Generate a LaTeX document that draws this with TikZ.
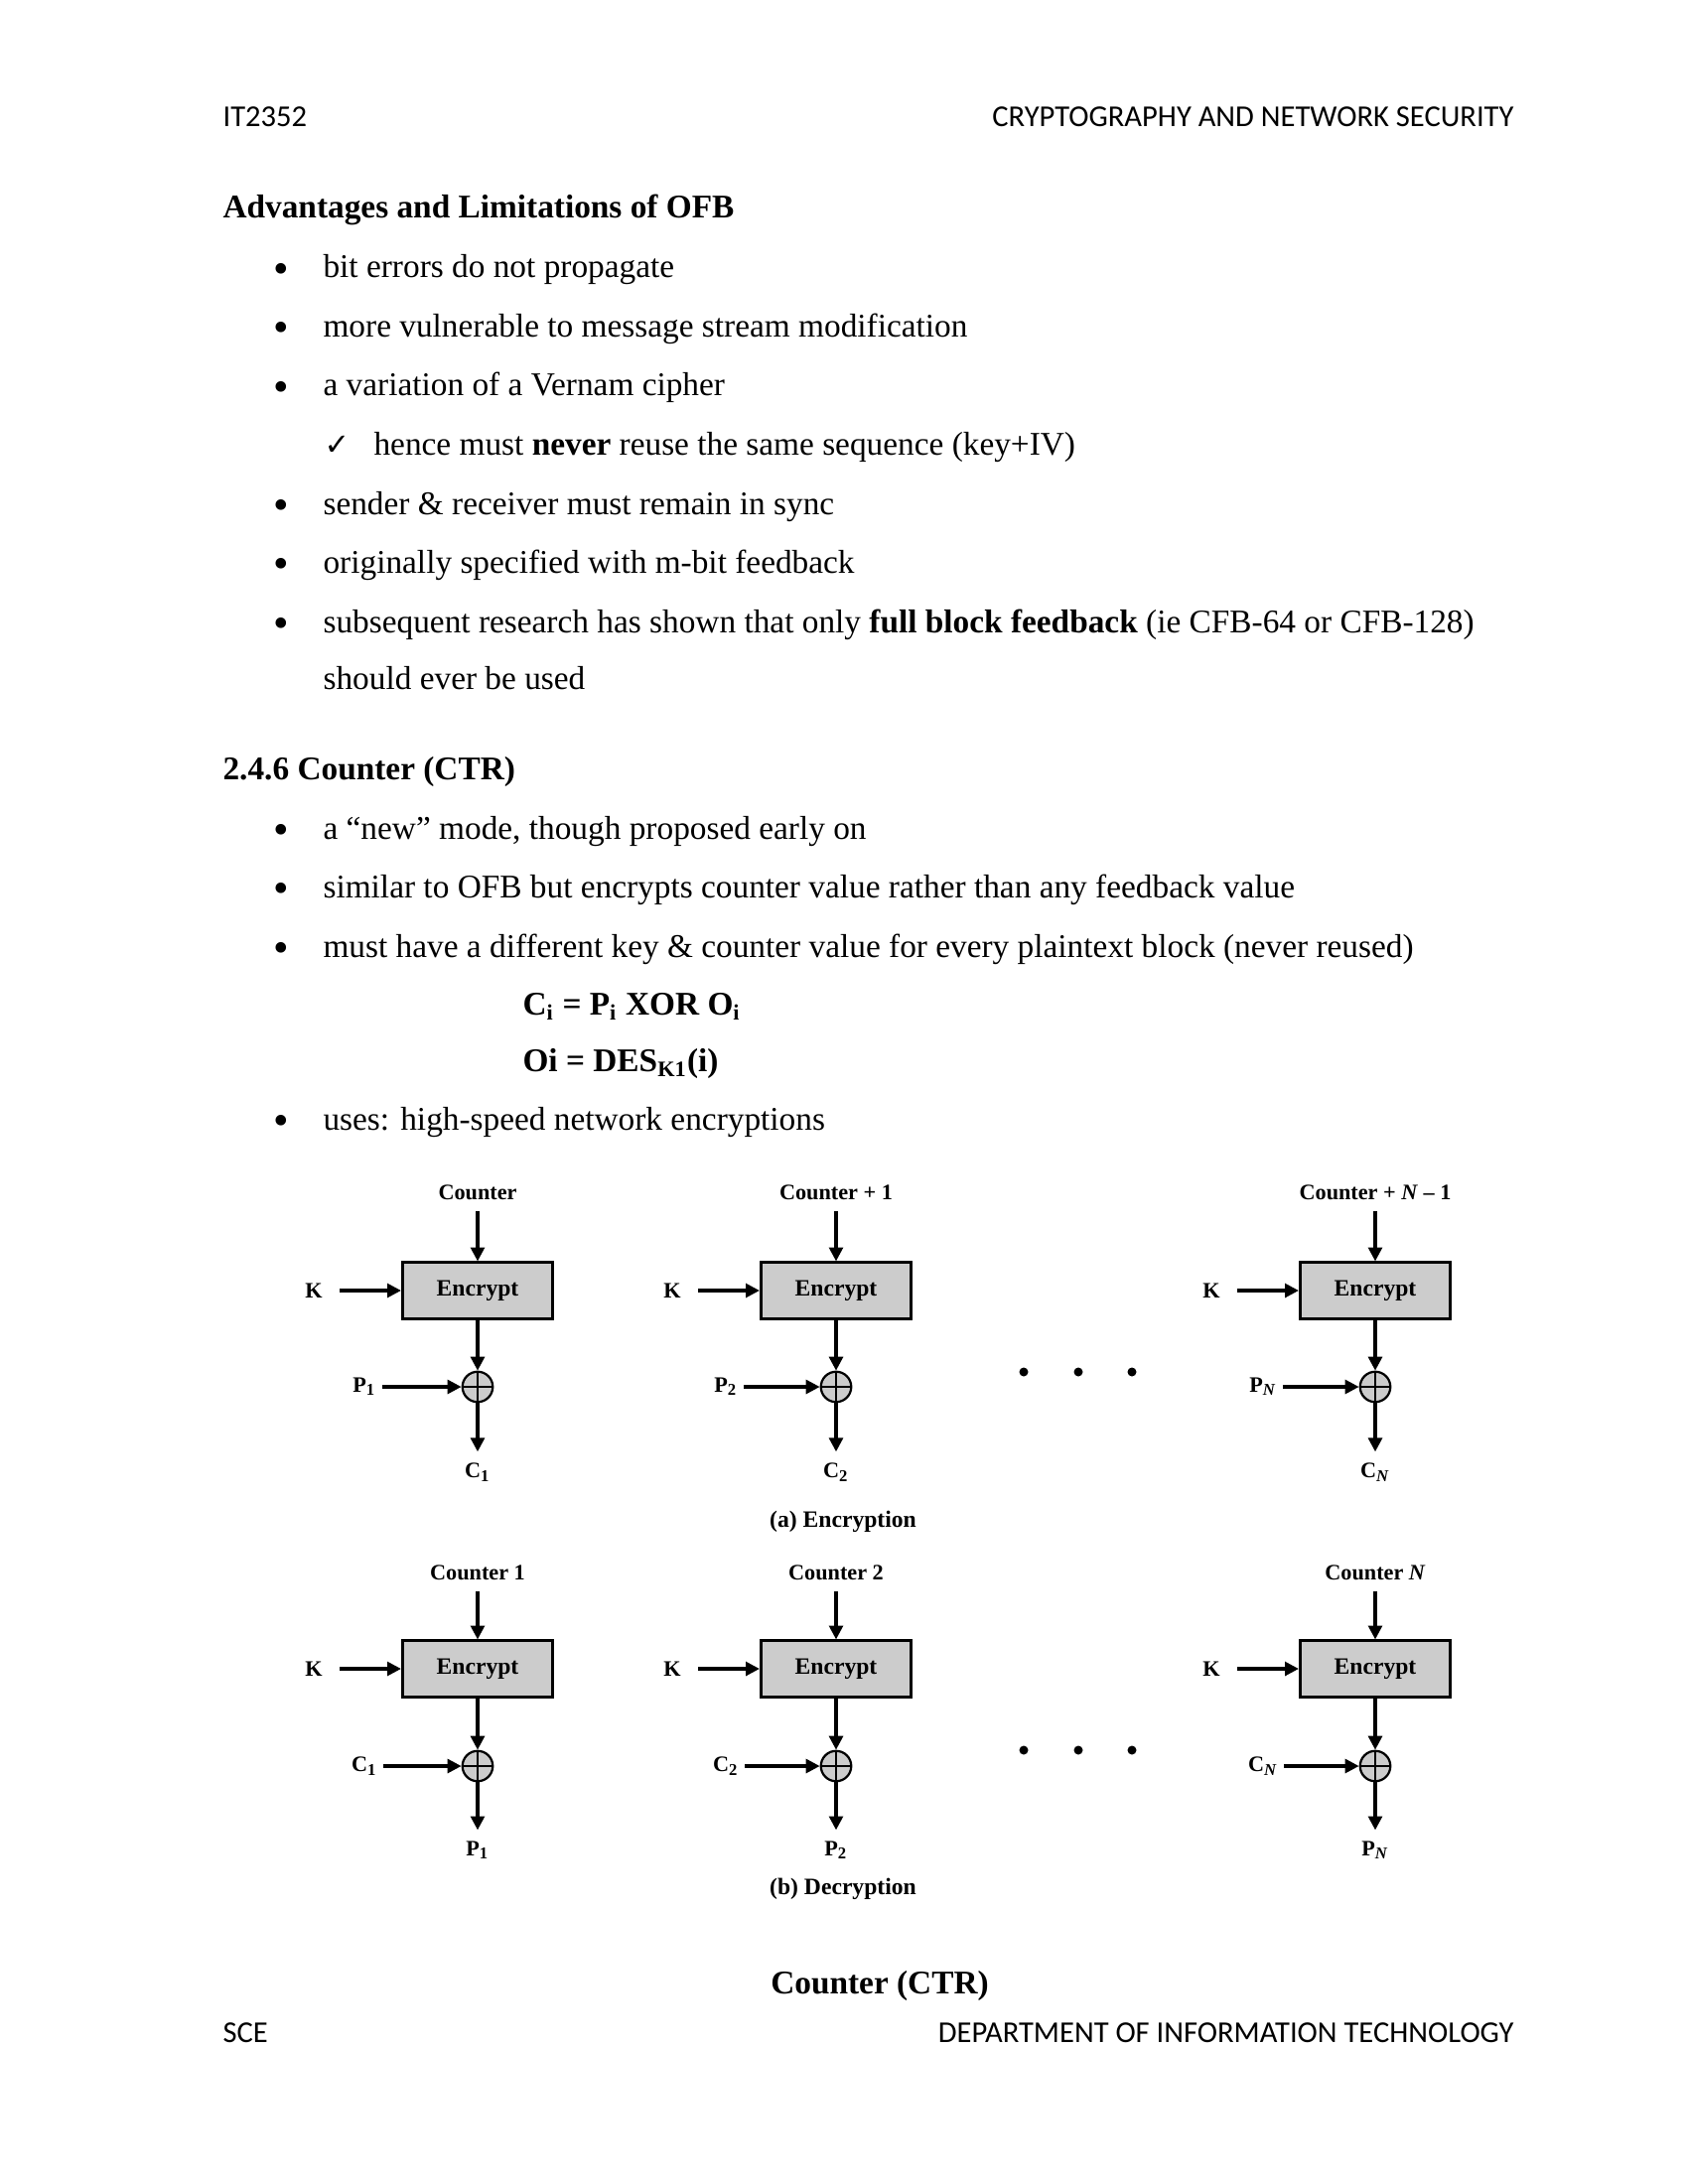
\documentclass[tikz,border=0pt]{standalone}
\usepackage{fontspec}
\setmainfont{Liberation Serif}
\newfontfamily\hdrfont{Carlito}
\newfontfamily\symfont{DejaVu Sans}
\usetikzlibrary{arrows.meta}
\definecolor{boxgray}{RGB}{204,204,204}
\newcommand{\blt}{\raisebox{-2pt}{\fontsize{16}{14}\selectfont •}}

\begin{document}
\begin{tikzpicture}[x=0.36pt,y=0.36pt,yscale=-1,xscale=1,
	txt/.style={anchor=base west,inner sep=0pt,font=\fontsize{12}{14}\selectfont},
	hdr/.style={inner sep=0pt,font=\hdrfont\fontsize{11}{13}\selectfont},
	lbl/.style={inner sep=1pt,font=\bfseries\fontsize{8}{9}\selectfont},
	encbox/.style={draw,line width=1.1pt,fill=boxgray,minimum width=54.4pt,minimum height=20.2pt,inner sep=0pt,font=\bfseries\fontsize{8.5}{10}\selectfont},
	xorop/.style={circle,draw,line width=0.8pt,fill=boxgray,minimum size=11pt,inner sep=0pt,
		path picture={\draw[line width=0.6pt] (path picture bounding box.north) -- (path picture bounding box.south) (path picture bounding box.west) -- (path picture bounding box.east);}},
	arr/.style={line width=1.1pt,-{Triangle[length=5pt,width=5pt]}}]
	\useasboundingbox (0,0) rectangle (1700,2200);
	
	% Header and footer
	\node[hdr,anchor=base west] (hleft) at (224,128) {IT2352};
	\node[hdr,anchor=base east] (hright) at (1525,128) {CRYPTOGRAPHY AND NETWORK SECURITY};
	\node[hdr,anchor=base west] (fleft) at (224,2057) {SCE};
	\node[hdr,anchor=base east] (fright) at (1525,2057) {DEPARTMENT OF INFORMATION TECHNOLOGY};
	
	% Text Node
	\node[txt] (ofbhead) at (224,220) {\bfseries Advantages and Limitations of OFB};
	\node[txt] (b1) at (275,280) {\blt};
	\node[txt] (t1) at (325,280) {bit errors do not propagate};
	\node[txt] (b2) at (275,339) {\blt};
	\node[txt] (t2) at (325,339) {more vulnerable to message stream modification};
	\node[txt] (b3) at (275,399) {\blt};
	\node[txt] (t3) at (325,399) {a variation of a Vernam cipher};
	\node[txt] (tick) at (326,458) {\symfont\bfseries\fontsize{11}{13}\selectfont ✓};
	\node[txt] (t4) at (376,458) {hence must \textbf{never} reuse the same sequence (key+IV)};
	\node[txt] (b5) at (275,518) {\blt};
	\node[txt] (t5) at (325,518) {sender \& receiver must remain in sync};
	\node[txt] (b6) at (275,577) {\blt};
	\node[txt] (t6) at (325,577) {originally specified with m-bit feedback};
	\node[txt] (b7) at (275,637) {\blt};
	\node[txt] (t7) at (325,637) {subsequent research has shown that only \textbf{full block feedback} (ie CFB-64 or CFB-128)};
	\node[txt] (t7b) at (325,694) {should ever be used};
	
	% Text Node
	\node[txt] (ctrhead) at (224,785) {\bfseries 2.4.6 Counter (CTR)};
	\node[txt] (b8) at (275,845) {\blt};
	\node[txt] (t8) at (325,845) {a “new” mode, though proposed early on};
	\node[txt] (b9) at (275,904) {\blt};
	\node[txt] (t9) at (325,904) {similar to OFB but encrypts counter value rather than any feedback value};
	\node[txt] (b10) at (275,964) {\blt};
	\node[txt] (t10) at (325,964) {must have a different key \& counter value for every plaintext block (never reused)};
	\node[txt] (f1) at (526,1022) {\bfseries C\textsubscript{i} = P\textsubscript{i} XOR O\textsubscript{i}};
	\node[txt] (f2) at (526,1079) {\bfseries Oi = DES\textsubscript{K1}(i)};
	\node[txt] (b11) at (275,1138) {\blt};
	\node[txt] (t11) at (325,1138) {uses: high-speed network encryptions};
	
	% Encryption
	\node[lbl] (cnt1) at (481,1201) {Counter};
	\node[encbox] (enc1) at (481,1300) {Encrypt};
	\node[lbl] (k1) at (316,1300) {K};
	\node[xorop] (x1) at (481,1397) {};
	\node[lbl] (p1) at (367,1397) {P\textsubscript{1}};
	\node[lbl] (c1) at (481,1483) {C\textsubscript{1}};
	\draw[arr,shorten <=3pt] (cnt1) -- (enc1);
	\draw[arr,shorten <=5pt] (k1) -- (enc1);
	\draw[arr] (enc1) -- (x1);
	\draw[arr,shorten <=1pt] (p1) -- (x1);
	\draw[arr,shorten >=3pt] (x1) -- (c1);
	
	\node[lbl] (cnt2) at (842,1201) {Counter + 1};
	\node[encbox] (enc2) at (842,1300) {Encrypt};
	\node[lbl] (k2) at (677,1300) {K};
	\node[xorop] (x2) at (842,1397) {};
	\node[lbl] (p2) at (731,1397) {P\textsubscript{2}};
	\node[lbl] (c2) at (842,1483) {C\textsubscript{2}};
	\draw[arr,shorten <=3pt] (cnt2) -- (enc2);
	\draw[arr,shorten <=5pt] (k2) -- (enc2);
	\draw[arr] (enc2) -- (x2);
	\draw[arr,shorten <=1pt] (p2) -- (x2);
	\draw[arr,shorten >=3pt] (x2) -- (c2);
	
	\node[lbl] (cnt3) at (1385,1201) {Counter + \textit{N} – 1};
	\node[encbox] (enc3) at (1385,1300) {Encrypt};
	\node[lbl] (k3) at (1220,1300) {K};
	\node[xorop] (x3) at (1385,1397) {};
	\node[lbl] (p3) at (1272,1397) {P\textsubscript{\textit{N}}};
	\node[lbl] (c3) at (1385,1483) {C\textsubscript{\textit{N}}};
	\draw[arr,shorten <=3pt] (cnt3) -- (enc3);
	\draw[arr,shorten <=5pt] (k3) -- (enc3);
	\draw[arr] (enc3) -- (x3);
	\draw[arr,shorten <=1pt] (p3) -- (x3);
	\draw[arr,shorten >=3pt] (x3) -- (c3);
	
	\fill (1031,1382) circle (4.5) (1086,1382) circle (4.5) (1140,1382) circle (4.5);
	\node[lbl,font=\bfseries\fontsize{8.5}{10}\selectfont] (capa) at (849,1533) {(a) Encryption};
	
	% Decryption
	\node[lbl] (dcnt1) at (481,1584) {Counter 1};
	\node[encbox] (denc1) at (481,1681) {Encrypt};
	\node[lbl] (dk1) at (316,1681) {K};
	\node[xorop] (dx1) at (481,1779) {};
	\node[lbl] (dc1) at (367,1779) {C\textsubscript{1}};
	\node[lbl] (dp1) at (481,1864) {P\textsubscript{1}};
	\draw[arr,shorten <=3pt] (dcnt1) -- (denc1);
	\draw[arr,shorten <=5pt] (dk1) -- (denc1);
	\draw[arr] (denc1) -- (dx1);
	\draw[arr,shorten <=1pt] (dc1) -- (dx1);
	\draw[arr,shorten >=3pt] (dx1) -- (dp1);
	
	\node[lbl] (dcnt2) at (842,1584) {Counter 2};
	\node[encbox] (denc2) at (842,1681) {Encrypt};
	\node[lbl] (dk2) at (677,1681) {K};
	\node[xorop] (dx2) at (842,1779) {};
	\node[lbl] (dc2) at (731,1779) {C\textsubscript{2}};
	\node[lbl] (dp2) at (842,1864) {P\textsubscript{2}};
	\draw[arr,shorten <=3pt] (dcnt2) -- (denc2);
	\draw[arr,shorten <=5pt] (dk2) -- (denc2);
	\draw[arr] (denc2) -- (dx2);
	\draw[arr,shorten <=1pt] (dc2) -- (dx2);
	\draw[arr,shorten >=3pt] (dx2) -- (dp2);
	
	\node[lbl] (dcnt3) at (1385,1584) {Counter \textit{N}};
	\node[encbox] (denc3) at (1385,1681) {Encrypt};
	\node[lbl] (dk3) at (1220,1681) {K};
	\node[xorop] (dx3) at (1385,1779) {};
	\node[lbl] (dc3) at (1272,1779) {C\textsubscript{\textit{N}}};
	\node[lbl] (dp3) at (1385,1864) {P\textsubscript{\textit{N}}};
	\draw[arr,shorten <=3pt] (dcnt3) -- (denc3);
	\draw[arr,shorten <=5pt] (dk3) -- (denc3);
	\draw[arr] (denc3) -- (dx3);
	\draw[arr,shorten <=1pt] (dc3) -- (dx3);
	\draw[arr,shorten >=3pt] (dx3) -- (dp3);
	
	\fill (1031,1763) circle (4.5) (1086,1763) circle (4.5) (1140,1763) circle (4.5);
	\node[lbl,font=\bfseries\fontsize{8.5}{10}\selectfont] (capb) at (849,1903) {(b) Decryption};
	
	% Caption
	\node[txt,anchor=base] (cap) at (886,2008) {\bfseries Counter (CTR)};
	
\end{tikzpicture}
\end{document}
